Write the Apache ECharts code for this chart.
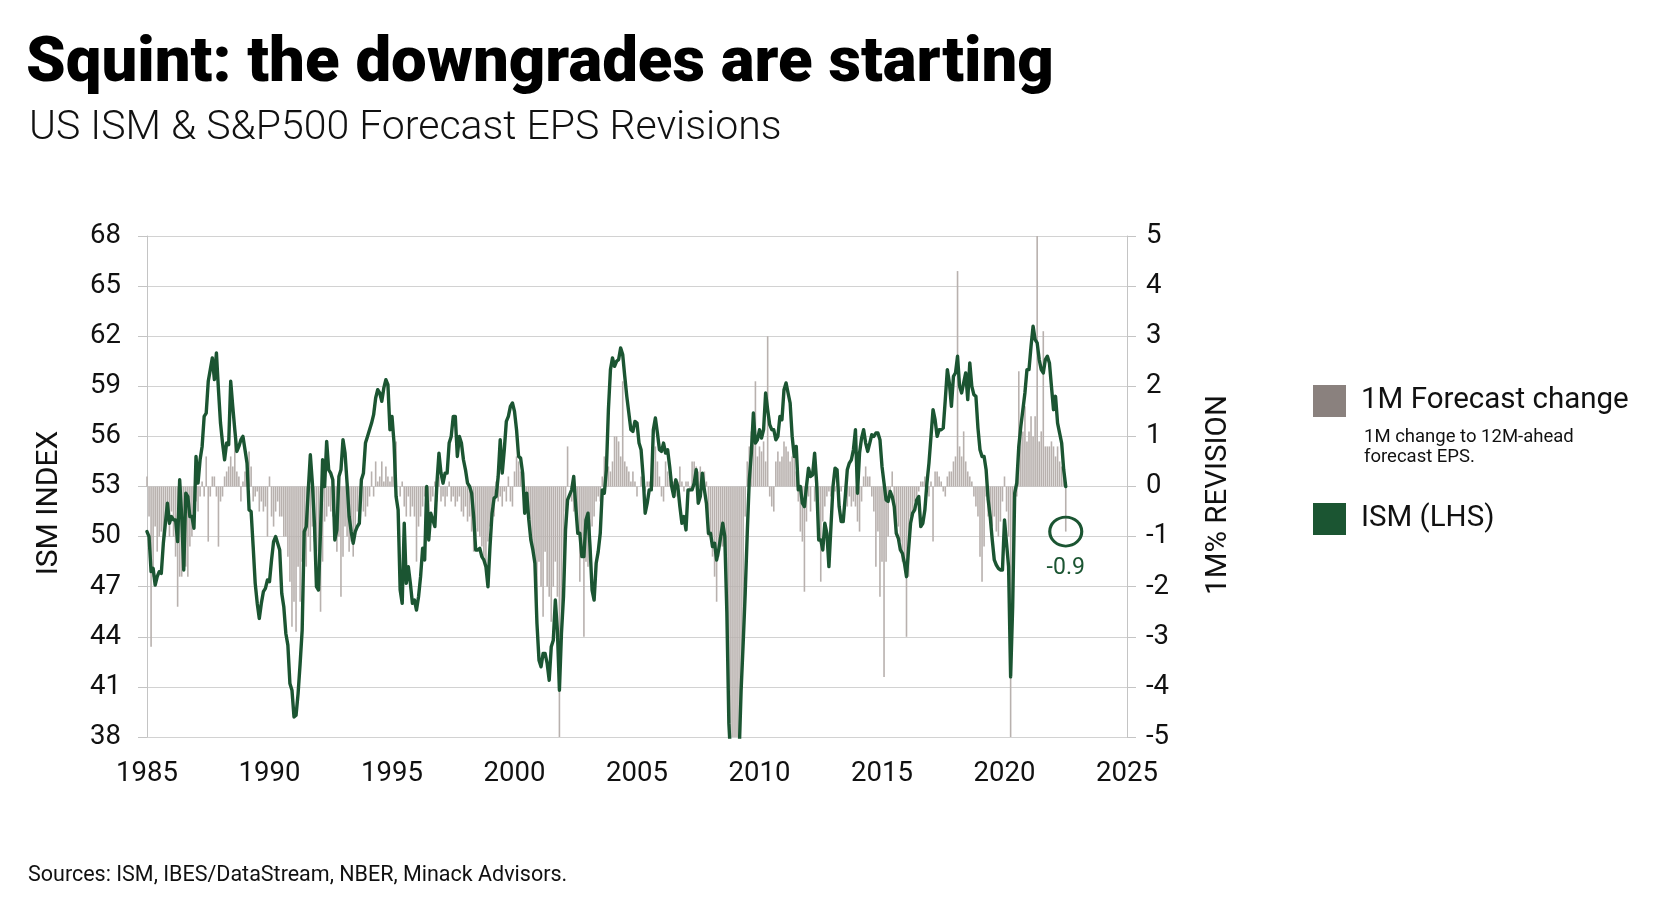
<!DOCTYPE html>
<html>
<head>
<meta charset="utf-8">
<script src="https://cdn.jsdelivr.net/npm/echarts/dist/echarts.min.js"></script>
<style>
  html, body { margin: 0; padding: 0; background: #ffffff; }
  #chart { width: 1680px; height: 904px; }
</style>
</head>
<body>
<div id="chart"></div>
<script>
// ---- Data (monthly, starting Jan 1985) ----
const startYear = 1985;
const xTickYears = [1985, 1990, 1995, 2000, 2005, 2010, 2015, 2020, 2025];
const leftTicks = [38, 41, 44, 47, 50, 53, 56, 59, 62, 65, 68];
const rightTicks = [-5, -4, -3, -2, -1, 0, 1, 2, 3, 4, 5];

// ISM manufacturing index (LHS)
const ismValues = [
  50.3, 50.0, 47.9, 48.1, 47.1, 47.6, 47.9, 47.8, 49.6, 50.8, 52.0, 50.8, // 1985
  51.2, 51.0, 51.0, 49.7, 53.4, 51.2, 48.0, 52.6, 52.4, 51.2, 51.2, 50.5, // 1986
  54.8, 53.2, 54.6, 55.4, 57.2, 57.4, 59.3, 60.0, 60.7, 59.4, 61.0, 58.8, // 1987
  56.8, 55.6, 54.6, 55.6, 55.5, 59.3, 57.8, 56.4, 55.1, 55.4, 55.8, 56.0, // 1988
  55.2, 54.4, 51.6, 51.5, 49.4, 47.2, 46.0, 45.1, 46.0, 46.7, 46.9, 47.4, // 1989
  47.3, 48.6, 49.7, 50.0, 49.6, 49.2, 46.6, 45.8, 44.2, 43.5, 41.2, 40.8, // 1990
  39.2, 39.3, 40.6, 42.4, 44.4, 50.3, 50.6, 52.8, 54.9, 53.2, 50.8, 47.0, // 1991
  46.8, 50.4, 54.6, 53.0, 55.7, 54.0, 53.8, 53.4, 49.8, 50.4, 53.6, 54.0, // 1992
  55.8, 55.0, 53.2, 51.2, 50.3, 49.6, 50.3, 50.6, 50.8, 53.4, 53.8, 55.6, // 1993
  56.0, 56.4, 56.8, 57.3, 58.3, 58.8, 58.6, 58.1, 58.9, 59.4, 59.1, 56.4, // 1994
  57.2, 55.6, 52.4, 51.6, 46.8, 46.0, 50.8, 47.2, 48.2, 47.2, 46.0, 46.2, // 1995
  45.6, 46.4, 47.6, 49.3, 48.6, 53.0, 49.8, 51.4, 51.0, 50.6, 53.2, 55.0, // 1996
  53.8, 53.2, 53.8, 53.8, 55.6, 56.0, 57.2, 57.2, 54.8, 56.0, 55.6, 54.6, // 1997
  54.0, 53.2, 53.0, 52.6, 51.2, 49.2, 49.2, 49.3, 48.8, 48.6, 48.2, 47.0, // 1998
  49.4, 51.4, 52.3, 52.4, 53.6, 55.8, 53.8, 55.2, 56.9, 57.2, 57.8, 58.0, // 1999
  57.5, 56.4, 54.8, 54.7, 53.8, 51.4, 52.6, 51.0, 49.8, 49.2, 48.4, 44.8, // 2000
  42.6, 42.2, 43.0, 43.0, 42.4, 41.4, 43.4, 43.8, 46.2, 44.4, 40.8, 44.2, // 2001
  46.4, 50.4, 52.2, 52.5, 52.8, 53.6, 51.8, 50.2, 50.2, 48.8, 48.8, 51.0, // 2002
  51.4, 49.4, 46.8, 46.2, 48.4, 49.1, 50.2, 52.8, 52.6, 54.0, 57.6, 60.0, // 2003
  60.7, 60.2, 60.5, 60.6, 61.3, 60.9, 59.6, 58.4, 57.4, 56.4, 56.3, 56.9, // 2004
  56.8, 55.6, 55.2, 53.6, 51.4, 52.0, 52.8, 52.8, 56.4, 57.1, 56.2, 55.2, // 2005
  55.1, 55.6, 55.0, 55.2, 54.2, 53.0, 52.4, 53.4, 53.0, 51.8, 50.8, 51.2, // 2006
  50.4, 52.8, 52.8, 52.8, 53.2, 54.0, 52.0, 52.4, 53.8, 52.8, 52.0, 50.2, // 2007
  50.2, 49.4, 49.6, 48.6, 49.2, 50.0, 50.8, 50.0, 45.5, 38.8, 36.5, 33.5, // 2008
  35.5, 35.8, 36.9, 40.8, 43.6, 46.6, 50.2, 53.4, 55.0, 57.4, 55.6, 55.8, // 2009
  56.4, 55.9, 56.4, 58.6, 57.6, 56.7, 56.4, 56.4, 55.8, 56.0, 57.2, 57.0, // 2010
  58.8, 59.2, 58.6, 58.0, 56.0, 54.8, 55.4, 52.8, 53.0, 52.0, 51.8, 53.0, // 2011
  54.1, 53.6, 53.7, 55.0, 53.2, 49.8, 49.8, 49.2, 50.8, 50.2, 48.2, 50.6, // 2012
  53.0, 54.1, 54.0, 51.8, 50.9, 50.9, 52.4, 54.0, 54.4, 54.6, 55.2, 56.4, // 2013
  52.6, 55.0, 55.9, 56.4, 55.6, 55.1, 55.6, 56.1, 56.0, 56.2, 56.2, 55.8, // 2014
  54.2, 53.2, 52.2, 52.1, 52.7, 52.4, 51.8, 50.2, 49.9, 49.2, 49.0, 48.4, // 2015
  47.6, 49.2, 50.8, 51.4, 51.6, 52.2, 52.4, 50.6, 50.8, 51.6, 53.2, 54.4, // 2016
  56.0, 57.6, 57.0, 56.0, 56.4, 56.4, 56.5, 58.2, 60.0, 59.2, 57.8, 59.6, // 2017
  59.8, 60.8, 59.0, 58.6, 59.2, 59.8, 58.2, 60.4, 59.0, 58.5, 58.4, 56.5, // 2018
  55.2, 54.8, 54.8, 54.0, 52.2, 51.2, 49.8, 48.6, 48.3, 48.1, 48.0, 48.0, // 2019
  51.0, 49.6, 48.2, 41.6, 45.8, 52.6, 53.2, 55.4, 56.6, 57.6, 58.6, 60.0, // 2020
  60.0, 61.4, 62.6, 61.8, 61.6, 60.6, 60.0, 59.8, 60.6, 60.8, 60.4, 59.0, // 2021
  57.6, 58.4, 56.8, 56.2, 55.6, 54.0, 53.0                                // 2022
];

// 1M % change to 12M-ahead forecast EPS (RHS)
const revisionValues = [
  0.2, -0.6, -3.2, -1.8, -0.8, -1.3, -1.0, -0.9, -1.1, -1.0, -0.7, -1.0, // 1985
  -0.5, -1.0, -1.4, -2.4, -1.8, -1.8, -1.2, -1.6, -1.8, -1.2, -1.0, -0.6, // 1986
  -0.3, -0.5, -0.2, 0.1, -0.2, 0.6, -1.1, -0.2, 0.2, 0.2, -0.2, -1.2, // 1987
  -0.3, -0.2, 0.2, 0.3, 0.4, 0.6, 0.4, 1.2, 0.3, 0.2, -0.3, 0.1, // 1988
  0.3, 0.3, 0.7, 0.4, -0.3, -0.2, -0.1, -0.5, -0.3, -0.5, -0.4, -1.0, // 1989
  0.2, -0.6, -0.8, -0.5, -0.3, -0.6, -0.6, -1.0, -1.0, -1.4, -1.9, -2.8, // 1990
  -2.3, -2.9, -1.6, -2.3, -1.5, -1.5, -1.6, -1.0, -1.3, -0.8, -1.1, -1.3, // 1991
  -1.9, -2.5, -1.5, -0.7, -0.6, -0.4, -0.5, -0.6, -0.8, -1.3, -1.0, -2.2, // 1992
  -1.4, -0.8, -1.0, -1.3, -1.1, -1.4, -0.9, -0.5, -0.7, -0.3, -0.5, -0.6, // 1993
  -0.4, -0.2, 0.3, -0.2, 0.5, 0.1, 0.2, 0.5, 0.1, 0.4, 0.2, 0.1, // 1994
  0.2, 0.6, 0.9, 0.0, -0.2, 0.1, -0.4, -0.6, -0.2, -0.6, -0.4, -0.6, // 1995
  -1.5, -0.8, -0.6, -0.4, -0.2, -0.5, -0.6, -0.3, -0.2, 0.1, -0.3, 0.2, // 1996
  -0.3, -0.2, -0.4, -0.2, 0.1, -0.3, -0.2, -0.4, -0.3, -0.2, -0.5, -0.6, // 1997
  -0.4, -0.7, -0.6, -0.9, -1.3, -1.0, -0.9, -1.0, -1.2, -1.4, -1.6, -1.1, // 1998
  -0.8, -0.4, -0.6, 0.1, -0.3, -0.2, -0.4, -0.1, -0.3, 0.2, -0.3, -0.4, // 1999
  0.3, 0.6, 0.5, 0.3, -0.1, -0.2, -0.4, -0.6, -1.0, -1.3, -1.6, -2.8, // 2000
  -1.5, -2.0, -2.6, -1.3, -2.0, -2.2, -2.7, -2.0, -1.5, -2.2, -5.0, -2.8, // 2001
  -2.1, -0.5, 0.8, 0.0, -0.3, -0.5, -0.5, -0.9, -1.9, -1.3, -3.0, -1.5, // 2002
  -1.6, -1.0, -0.8, -0.6, -0.3, -0.2, -0.3, 0.2, 0.6, 0.5, 0.4, 0.3, // 2003
  0.5, 1.0, 1.0, 0.9, 0.6, 2.1, 0.5, 0.4, 0.3, 0.1, 0.3, 0.1, // 2004
  -0.2, 0.0, 0.2, 0.2, -0.1, 0.1, 0.1, 0.2, 0.6, 0.8, 0.5, 0.2, // 2005
  -0.2, -0.3, 0.5, 0.3, 0.2, -0.1, 0.1, -0.2, 0.1, 0.4, 0.1, -0.1, // 2006
  0.1, 0.1, -0.1, 0.5, 0.5, 0.4, 0.3, 0.4, 0.2, 0.3, 0.1, -1.0, // 2007
  -0.9, -1.4, -1.8, -2.3, -1.4, -1.2, -1.2, -1.4, -3.0, -4.0, -6.0, -7.0, // 2008
  -7.0, -6.0, -5.5, -3.8, -2.9, -0.6, 0.5, 0.8, 1.1, 1.0, 2.1, 0.6, // 2009
  0.8, 0.7, 0.9, 0.5, 3.0, -0.2, -0.4, -0.5, 0.5, 0.7, 0.5, 0.6, // 2010
  0.9, 0.8, 0.7, 0.5, 0.6, 0.8, 0.3, -0.3, -0.9, -1.1, -2.1, -0.7, // 2011
  -0.2, -0.5, 0.0, -0.3, 0.2, -0.9, -1.9, -0.7, -0.4, -0.2, -0.1, -0.2, // 2012
  -0.1, -0.1, 0.0, -0.2, -0.1, 0.0, -0.1, -0.4, -0.2, -0.4, -0.3, -0.4, // 2013
  -0.7, -0.9, -0.3, 0.2, 0.4, 0.2, 0.2, -0.2, -0.5, -1.6, -0.9, -2.2, // 2014
  -1.5, -3.8, -1.5, -1.0, -0.1, 0.3, -0.5, -0.7, -0.8, -1.1, -1.5, -1.5, // 2015
  -3.0, -1.8, -0.6, -0.6, -0.3, -0.3, -0.1, 0.1, 0.1, 0.2, -0.1, -0.2, // 2016
  0.1, -1.1, 0.3, 0.3, 0.2, 0.1, -0.1, -0.2, 0.2, 0.3, 0.3, 0.5, // 2017
  0.6, 4.3, 0.8, 0.6, 1.1, 0.5, 0.3, 0.2, 0.1, -0.2, -0.4, -0.6, // 2018
  -1.4, -1.9, -1.2, -0.2, -0.6, -0.5, -0.8, -0.6, -0.9, -1.0, -0.7, -0.3, // 2019
  0.2, -0.5, -1.0, -5.8, -2.5, -0.6, -0.2, 2.3, 1.2, 1.1, 1.6, 0.9, // 2020
  1.1, 1.4, 1.0, 1.4, 5.0, 0.9, 1.1, 3.1, 0.8, 0.8, 0.8, 0.9, // 2021
  0.8, 0.6, 0.8, 0.5, 0.4, 0.2, -0.9                              // 2022
];

const latestRevisionLabel = '-0.9';

// ---- Build series data ----
const monthX = (i) => startYear + i / 12;
const ismData = ismValues.map((v, i) => [monthX(i), v]);
const revData = revisionValues.map((v, i) => [monthX(i), v]);
const lastIdx = revisionValues.length - 1;
const latestPoint = [[monthX(lastIdx), revisionValues[lastIdx]]];

const GREEN = '#1b5532';
const BAR_GRAY = '#b8b1ae';
const LEG_GRAY = '#8a817e';
const FONT = 'Roboto, "Liberation Sans", sans-serif';

const chart = echarts.init(document.getElementById('chart'), null, { renderer: 'canvas' });

const option = {
  backgroundColor: '#ffffff',
  animation: false,
  textStyle: { fontFamily: FONT },
  title: [
    {
      text: 'Squint: the downgrades are starting',
      left: 21, top: 28,
      textStyle: { fontFamily: FONT, fontSize: 63.5, fontWeight: 900, color: '#000000' }
    },
    {
      text: 'US ISM & S&P500 Forecast EPS Revisions',
      left: 24, top: 103,
      textStyle: { fontFamily: FONT, fontSize: 41, fontWeight: 300, color: '#111111' }
    },
    {
      text: 'Sources: ISM, IBES/DataStream, NBER, Minack Advisors.',
      left: 23, top: 860,
      textStyle: { fontFamily: FONT, fontSize: 21.5, fontWeight: 400, color: '#111111' }
    }
  ],
  legend: [
    {
      data: [{ name: '1M Forecast change', itemStyle: { color: LEG_GRAY } }],
      left: 1308, top: 380,
      icon: 'rect', itemWidth: 33, itemHeight: 32,
      selectedMode: false,
      textStyle: { fontFamily: FONT, fontSize: 29.5, color: '#111111', padding: [0, 0, 0, 10] }
    },
    {
      data: [{ name: 'ISM (LHS)', itemStyle: { color: GREEN } }],
      left: 1308, top: 498,
      icon: 'rect', itemWidth: 33, itemHeight: 32,
      selectedMode: false,
      textStyle: { fontFamily: FONT, fontSize: 29.5, color: '#111111', padding: [0, 0, 0, 10] }
    }
  ],
  graphic: [
    {
      type: 'text', left: 1364, top: 427,
      style: { text: '1M change to 12M-ahead\nforecast EPS.', fontFamily: FONT, fontSize: 18.5, lineHeight: 20, fill: '#111111' }
    },
    {
      type: 'text', x: 49, y: 503, rotation: Math.PI / 2,
      style: { text: 'ISM INDEX', fontFamily: FONT, fontSize: 30, fill: '#111111', align: 'center', verticalAlign: 'middle' }
    },
    {
      type: 'text', x: 1219, y: 495, rotation: Math.PI / 2,
      style: { text: '1M% REVISION', fontFamily: FONT, fontSize: 29.5, fill: '#111111', align: 'center', verticalAlign: 'middle' }
    }
  ],
  grid: { left: 147, right: 553, top: 236, bottom: 167, containLabel: false },
  xAxis: {
    type: 'value',
    min: xTickYears[0], max: xTickYears[xTickYears.length - 1], interval: 5,
    axisLine: { show: false },
    axisTick: { show: false },
    splitLine: { show: false },
    axisLabel: { fontFamily: FONT, fontSize: 27.5, color: '#111111', margin: 23, formatter: (v) => String(v) }
  },
  yAxis: [
    {
      type: 'value', min: leftTicks[0], max: leftTicks[leftTicks.length - 1], interval: 3,
      position: 'left',
      axisLine: { show: true, lineStyle: { color: '#c4c4c4', width: 1 } },
      axisTick: { show: true, length: 9, lineStyle: { color: '#c4c4c4' } },
      splitLine: { show: true, lineStyle: { color: '#d2d2d2', width: 1 } },
      axisLabel: { fontFamily: FONT, fontSize: 27.5, color: '#111111', margin: 26 }
    },
    {
      type: 'value', min: rightTicks[0], max: rightTicks[rightTicks.length - 1], interval: 1,
      position: 'right',
      axisLine: { show: true, lineStyle: { color: '#c4c4c4', width: 1 } },
      axisTick: { show: true, length: 9, lineStyle: { color: '#c4c4c4' } },
      splitLine: { show: false },
      axisLabel: { fontFamily: FONT, fontSize: 27.5, color: '#111111', margin: 19 }
    }
  ],
  series: [
    {
      name: '1M Forecast change',
      type: 'bar',
      xAxisIndex: 0, yAxisIndex: 1,
      data: revData,
      barWidth: 1.6,
      clip: true,
      itemStyle: { color: BAR_GRAY },
      z: 2
    },
    {
      name: 'ISM (LHS)',
      type: 'line',
      xAxisIndex: 0, yAxisIndex: 0,
      data: ismData,
      showSymbol: false,
      symbol: 'none',
      clip: true,
      lineStyle: { color: GREEN, width: 3.4, join: 'round', cap: 'round' },
      itemStyle: { color: GREEN },
      z: 3
    },
    {
      name: 'latest',
      type: 'scatter',
      xAxisIndex: 0, yAxisIndex: 1,
      data: latestPoint,
      symbol: 'circle',
      symbolSize: [32, 29],
      itemStyle: { color: 'rgba(0,0,0,0)', borderColor: GREEN, borderWidth: 3, opacity: 1 },
      label: {
        show: true, position: 'bottom', distance: 9,
        formatter: () => latestRevisionLabel,
        fontFamily: FONT, fontSize: 23, color: GREEN
      },
      emphasis: { disabled: true },
      z: 4
    }
  ]
};

chart.setOption(option);
</script>
</body>
</html>
